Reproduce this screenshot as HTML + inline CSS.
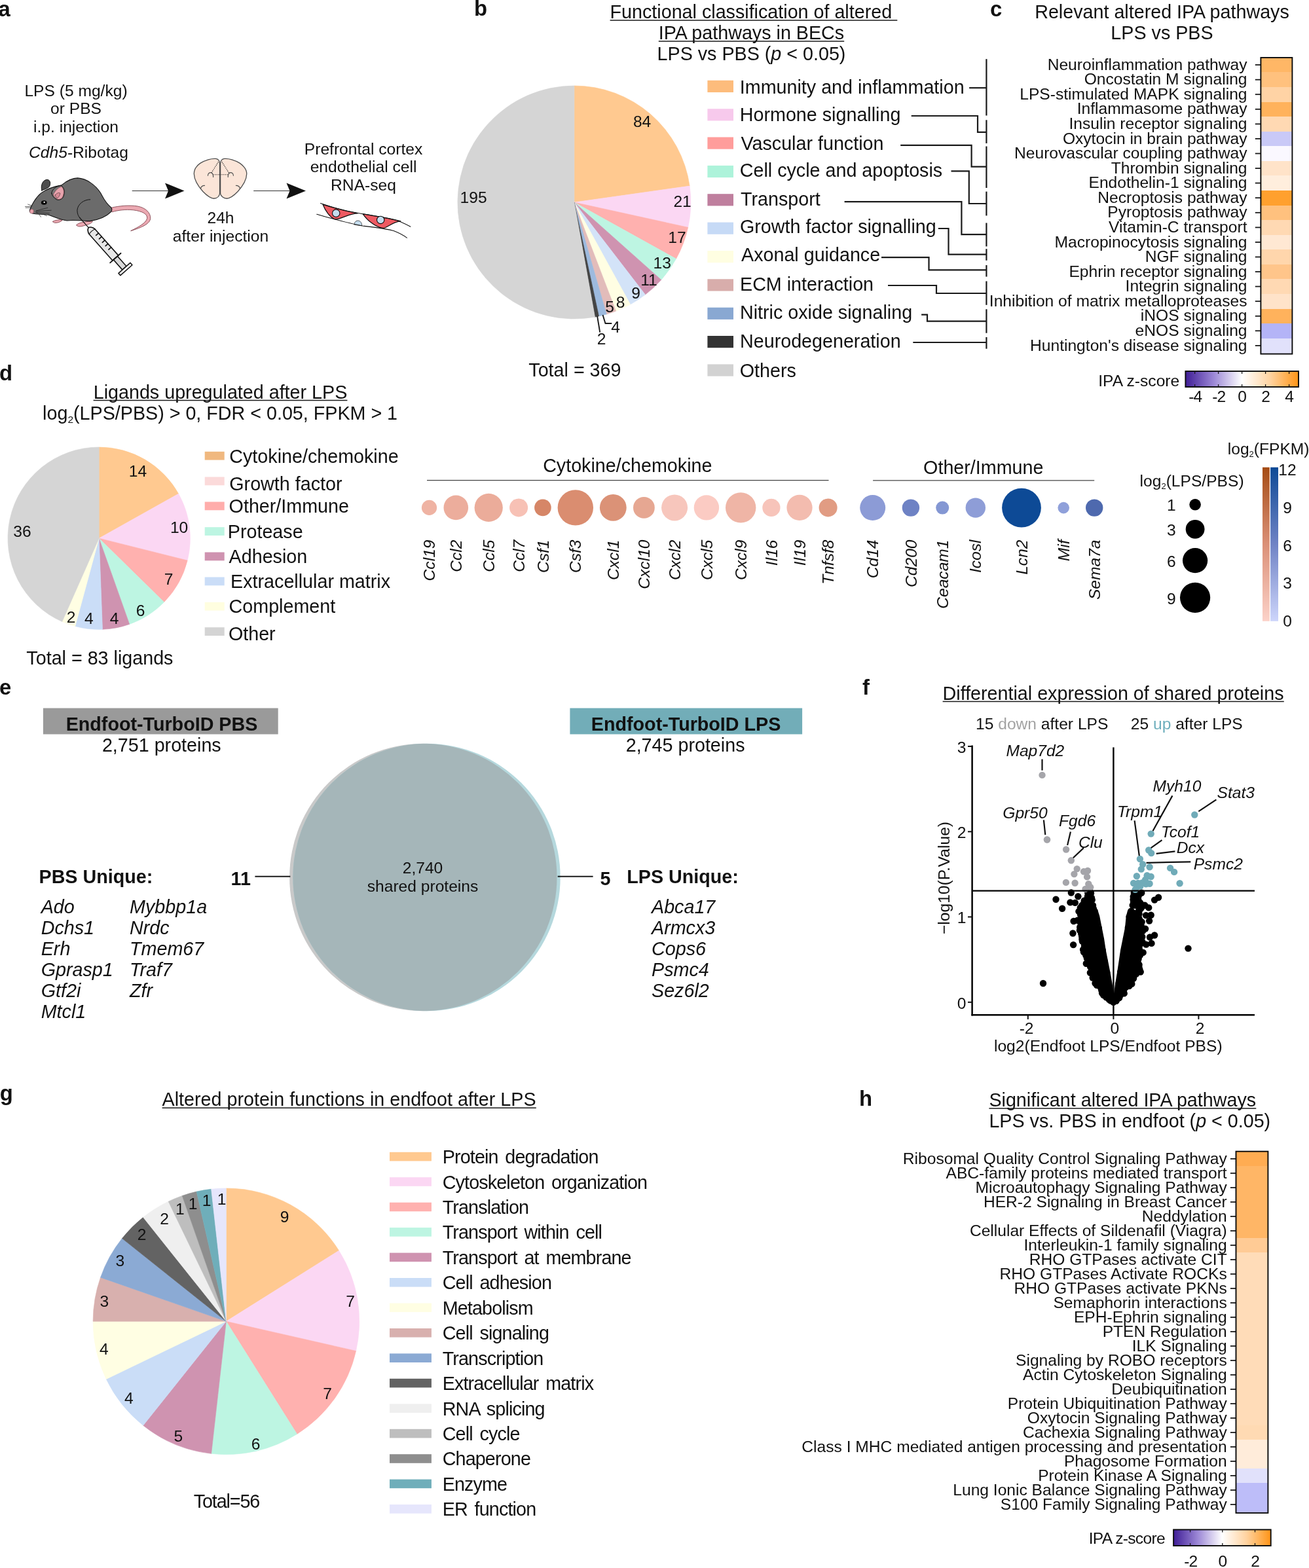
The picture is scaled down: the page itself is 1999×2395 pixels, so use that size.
<!DOCTYPE html>
<html lang="en"><head><meta charset="utf-8"><title>Figure</title>
<style>
html,body{margin:0;padding:0;background:#fff;overflow:hidden}
svg{display:block}
text{font-family:"Liberation Sans",sans-serif;fill:#111}
.b{font-weight:bold}
.i{font-style:italic}
</style></head><body>
<svg width="1999" height="2395" viewBox="0 0 1999 2395">
<rect width="1999" height="2395" fill="#fff"/>
<g id="pa">
<text x="-2.4" y="24.7" font-size="32.80" class="b">a</text>
<text x="116.0" y="146.8" font-size="24.60" text-anchor="middle">LPS (5 mg/kg)</text>
<text x="116.0" y="174.4" font-size="24.60" text-anchor="middle">or PBS</text>
<text x="116.0" y="201.8" font-size="24.60" text-anchor="middle">i.p. injection</text>
<text x="120.0" y="240.6" font-size="24.60" text-anchor="middle"><tspan class="i">Cdh5</tspan>-Ribotag</text>
<text x="337.0" y="341.0" font-size="24.60" text-anchor="middle">24h</text>
<text x="337.0" y="368.5" font-size="24.60" text-anchor="middle">after injection</text>
<text x="555.0" y="235.5" font-size="24.60" text-anchor="middle">Prefrontal cortex</text>
<text x="555.0" y="263.0" font-size="24.60" text-anchor="middle">endothelial cell</text>
<text x="555.0" y="290.5" font-size="24.60" text-anchor="middle">RNA-seq</text>
<line x1="201.7" y1="291.5" x2="258.0" y2="291.5" stroke="#333" stroke-width="1.15"/>
<path d="M281.5,291.5 L252.0,279.5 L257.0,291.5 L252.0,303.5 Z" fill="#111"/>
<line x1="387.2" y1="291.5" x2="443.5" y2="291.5" stroke="#333" stroke-width="1.15"/>
<path d="M467.0,291.5 L437.5,279.5 L442.5,291.5 L437.5,303.5 Z" fill="#111"/>
<g transform="translate(20,250) scale(0.13691)" stroke-linejoin="round" stroke-linecap="round">
<path d="M1095,492 C1180,470 1300,460 1390,475 C1480,492 1535,550 1532,610 C1528,670 1440,710 1312,750 C1400,705 1480,665 1495,610 C1500,560 1440,530 1340,517 C1250,508 1170,520 1105,538 Z" fill="#EBA9B2" stroke="#7a3a45" stroke-width="6"/>
<path d="M320,300 C305,240 330,185 375,178 C415,178 420,215 408,250 C395,275 350,285 320,300 Z" fill="#4d4d4d" stroke="#111" stroke-width="7"/>
<path d="M442,645 C470,628 520,622 550,630 C530,650 500,662 465,660 Z" fill="#EBA9B2" stroke="#7a3a45" stroke-width="6"/>
<path d="M708,685 C720,660 780,650 885,640 C890,660 840,680 790,692 C750,705 715,705 708,685 Z" fill="#EBA9B2" stroke="#7a3a45" stroke-width="6"/>
<path d="M185,520 C200,470 250,380 310,330 C370,285 450,255 540,240 C600,190 660,160 720,160 C820,165 920,240 975,325 C1005,380 1030,440 1095,490 C1105,510 1100,530 1090,540 C1040,590 960,625 860,640 C780,640 700,625 600,635 C530,630 450,590 390,570 C330,562 260,565 215,555 C190,548 182,535 185,520 Z" fill="#6B6B6B" stroke="#111" stroke-width="8"/>
<path d="M860,400 C790,400 720,450 715,520 C715,560 730,590 745,605" fill="none" stroke="#111" stroke-width="7"/>
<path d="M430,330 C430,290 480,250 535,245 C575,270 580,320 560,370 C545,400 510,410 485,400 C455,380 435,360 430,330 Z" fill="#777" stroke="#111" stroke-width="7"/>
<path d="M448,345 C470,300 505,265 540,255 C570,285 572,325 552,372 C540,395 510,403 492,395 C470,380 455,365 448,345 Z" fill="#E8A3AD" stroke="#7a3a45" stroke-width="4"/>
<path d="M470,350 C490,325 510,320 525,330 C520,360 505,380 490,385 C478,375 472,365 470,350 Z" fill="#D98A96" stroke="#222" stroke-width="4"/>
<ellipse cx="345" cy="434" rx="32" ry="24" fill="#000"/>
<circle cx="348" cy="430" r="9" fill="#fff"/>
<ellipse cx="208" cy="532" rx="22" ry="24" fill="#E8A3AD" stroke="#7a3a45" stroke-width="3"/>
<line x1="258" y1="525" x2="385" y2="492" stroke="#111" stroke-width="4.5"/>
<line x1="258" y1="532" x2="425" y2="520" stroke="#111" stroke-width="4.5"/>
<line x1="262" y1="545" x2="405" y2="553" stroke="#111" stroke-width="4.5"/>
<line x1="205" y1="478" x2="135" y2="478" stroke="#111" stroke-width="4.5"/>
<line x1="210" y1="470" x2="165" y2="453" stroke="#111" stroke-width="4.5"/>
<line x1="200" y1="490" x2="140" y2="492" stroke="#111" stroke-width="4.5"/>
<line x1="290" y1="565" x2="310" y2="595" stroke="#111" stroke-width="4.5"/>
<line x1="340" y1="565" x2="375" y2="582" stroke="#111" stroke-width="4.5"/>
<line x1="250" y1="540" x2="270" y2="548" stroke="#111" stroke-width="4.5"/>
<g transform="translate(745,605) rotate(48.4)">
<line x1="-5" y1="0" x2="150" y2="0" stroke="#111" stroke-width="9"/>
<path d="M145,0 C150,-20 175,-40 205,-43 L598,-43 L598,43 L205,43 C175,40 150,20 145,0 Z" fill="#E6E6E6" stroke="#111" stroke-width="11.5"/>
<path d="M205,-43 C195,-15 195,15 205,43" fill="none" stroke="#111" stroke-width="8"/>
<line x1="265" y1="-43" x2="265" y2="-6" stroke="#111" stroke-width="12"/>
<line x1="318" y1="-43" x2="318" y2="-6" stroke="#111" stroke-width="12"/>
<line x1="371" y1="-43" x2="371" y2="-6" stroke="#111" stroke-width="12"/>
<line x1="424" y1="-43" x2="424" y2="-6" stroke="#111" stroke-width="12"/>
<line x1="477" y1="-43" x2="477" y2="-6" stroke="#111" stroke-width="12"/>
<rect x="598" y="-30" width="150" height="60" fill="#D9D9D9" stroke="#111" stroke-width="11.5"/>
<line x1="598" y1="-80" x2="598" y2="80" stroke="#111" stroke-width="13"/>
<rect x="748" y="-88" width="32" height="176" fill="#fff" stroke="#111" stroke-width="11"/>
</g>
</g>
<g transform="translate(280,230) scale(0.11409)" stroke-linecap="round" stroke-linejoin="round">
<path d="M487,170 C485,140 470,115 435,109 C380,102 290,128 225,170 C170,210 142,262 143,312 C145,395 205,485 262,548 C310,598 365,638 408,642 C448,640 482,615 487,575 Z" fill="#FBE5D8" stroke="#505050" stroke-width="11.5"/>
<path d="M496,170 C498,140 513,115 548,109 C603,102 693,128 758,170 C813,210 848,262 848,312 C846,395 786,485 729,548 C681,598 626,638 583,642 C543,640 501,615 496,575 Z" fill="#FBE5D8" stroke="#505050" stroke-width="11.5"/>
<path d="M468,152 L375,300 M517,152 L610,300 M398,322 L600,322" fill="none" stroke="#222" stroke-width="10" stroke-dasharray="11,12" stroke-linecap="butt"/>
<path d="M328,335 C330,305 350,292 370,295 C390,300 400,325 400,355" fill="none" stroke="#505050" stroke-width="10"/>
<path d="M670,335 C668,305 648,292 628,295 C608,300 598,325 598,355" fill="none" stroke="#505050" stroke-width="10"/>
<path d="M285,468 C255,468 235,485 232,512" fill="none" stroke="#505050" stroke-width="10"/>
<path d="M705,468 C735,468 755,485 758,512" fill="none" stroke="#505050" stroke-width="10"/>
</g>
<g transform="translate(280,220) scale(0.22818)" stroke-linecap="round" stroke-linejoin="round">
<path d="M934,405 C1013,430 1094,450 1166,464 C1125,464 1085,486 1044,499 C1032,503 1022,504 1013,503 C981,491 950,446 934,405 Z" fill="#EE5A62" stroke="#111" stroke-width="5.5"/>
<path d="M1202,468 C1283,482 1373,495 1454,516 C1413,520 1382,545 1350,560 C1344,563 1338,563 1332,563 C1283,554 1229,509 1202,468 Z" fill="#EE5A62" stroke="#111" stroke-width="5.5"/>
<path d="M1143,538 C1145,520 1158,512 1170,513 C1185,514 1195,528 1195,545 Z" fill="#C5DDEE" stroke="#111" stroke-width="3"/>
<path d="M918,397 C1000,425 1100,452 1200,468 C1300,483 1400,500 1440,515 C1470,528 1500,542 1520,553" fill="none" stroke="#111" stroke-width="4.5"/>
<path d="M893,470 C1000,500 1100,530 1200,548 C1300,560 1370,568 1410,582 C1445,596 1475,612 1497,628" fill="none" stroke="#111" stroke-width="4.5"/>
<circle cx="1022" cy="463" r="25" fill="#C5DDEE" stroke="#111" stroke-width="5"/>
<circle cx="1320" cy="508" r="25" fill="#C5DDEE" stroke="#111" stroke-width="5"/>
</g>
</g>
<g id="pb">
<text x="724.1" y="24.3" font-size="32.80" class="b">b</text>
<text x="931.6" y="28.0" font-size="28.70">Functional classification of altered</text>
<line x1="931.6" y1="31.0" x2="1370.3" y2="31.0" stroke="#1a1a1a" stroke-width="1.60"/>
<text x="1147.5" y="60.0" font-size="28.70" text-anchor="middle">IPA pathways in BECs</text>
<line x1="1005.8" y1="63.0" x2="1289.2" y2="63.0" stroke="#1a1a1a" stroke-width="1.60"/>
<text x="1147.5" y="92.0" font-size="28.70" text-anchor="middle">LPS vs PBS (<tspan class="i">p</tspan> &lt; 0.05)</text>
<path d="M876.90,309.00 L876.90,131.00 A178.00,178.00 0 0 1 1053.15,284.08 Z" fill="#FFC990" stroke="#FFC990" stroke-width="0.6"/>
<path d="M876.90,309.00 L1053.15,284.08 A178.00,178.00 0 0 1 1050.72,347.34 Z" fill="#FBD7F3" stroke="#FBD7F3" stroke-width="0.6"/>
<path d="M876.90,309.00 L1050.72,347.34 A178.00,178.00 0 0 1 1032.55,395.36 Z" fill="#FFB1AF" stroke="#FFB1AF" stroke-width="0.6"/>
<path d="M876.90,309.00 L1032.55,395.36 A178.00,178.00 0 0 1 1009.79,427.43 Z" fill="#BDF5E2" stroke="#BDF5E2" stroke-width="0.6"/>
<path d="M876.90,309.00 L1009.79,427.43 A178.00,178.00 0 0 1 985.41,450.10 Z" fill="#CF93B0" stroke="#CF93B0" stroke-width="0.6"/>
<path d="M876.90,309.00 L985.41,450.10 A178.00,178.00 0 0 1 962.60,465.01 Z" fill="#D3E3F8" stroke="#D3E3F8" stroke-width="0.6"/>
<path d="M876.90,309.00 L962.60,465.01 A178.00,178.00 0 0 1 940.62,475.20 Z" fill="#FFFEE3" stroke="#FFFEE3" stroke-width="0.6"/>
<path d="M876.90,309.00 L940.62,475.20 A178.00,178.00 0 0 1 926.25,480.02 Z" fill="#E2BCBA" stroke="#E2BCBA" stroke-width="0.6"/>
<path d="M876.90,309.00 L926.25,480.02 A178.00,178.00 0 0 1 914.50,482.98 Z" fill="#9DBADE" stroke="#9DBADE" stroke-width="0.6"/>
<path d="M876.90,309.00 L914.50,482.98 A178.00,178.00 0 0 1 908.56,484.16 Z" fill="#444444" stroke="#444444" stroke-width="0.6"/>
<path d="M876.90,309.00 L908.56,484.16 A178.00,178.00 0 1 1 876.90,131.00 Z" fill="#D5D5D5" stroke="#D5D5D5" stroke-width="0.6"/>
<text x="980.6" y="194.0" font-size="24.60" text-anchor="middle">84</text>
<text x="723.1" y="309.5" font-size="24.60" text-anchor="middle">195</text>
<text x="1042.1" y="316.2" font-size="24.60" text-anchor="middle">21</text>
<text x="1034.0" y="371.4" font-size="24.60" text-anchor="middle">17</text>
<text x="1011.2" y="410.2" font-size="24.60" text-anchor="middle">13</text>
<text x="991.0" y="435.7" font-size="24.60" text-anchor="middle">11</text>
<text x="971.0" y="456.4" font-size="24.60" text-anchor="middle">9</text>
<text x="947.7" y="469.8" font-size="24.60" text-anchor="middle">8</text>
<text x="931.2" y="477.4" font-size="24.60" text-anchor="middle">5</text>
<text x="940.0" y="507.6" font-size="24.60" text-anchor="middle">4</text>
<text x="918.6" y="526.2" font-size="24.60" text-anchor="middle">2</text>
<polyline points="920.5,481.0 924.5,494.0 934.3,494.0" fill="none" stroke="#1a1a1a" stroke-width="1.90"/>
<polyline points="912.1,482.9 916.2,507.6" fill="none" stroke="#1a1a1a" stroke-width="1.90"/>
<text x="877.9" y="575.0" font-size="28.70" text-anchor="middle">Total = 369</text>
<rect x="1080.4" y="122.8" width="39.6" height="18.2" fill="#FDBC7C"/>
<text x="1129.8" y="143.2" font-size="28.70">Immunity and inflammation</text>
<rect x="1080.4" y="166.2" width="39.6" height="18.2" fill="#F7C9EC"/>
<text x="1129.8" y="185.0" font-size="28.70">Hormone signalling</text>
<rect x="1080.4" y="209.5" width="39.6" height="18.2" fill="#FF9D9B"/>
<text x="1131.5" y="228.7" font-size="28.70">Vascular function</text>
<rect x="1080.4" y="252.9" width="39.6" height="18.2" fill="#ADF3DA"/>
<text x="1129.8" y="270.4" font-size="28.70">Cell cycle and apoptosis</text>
<rect x="1080.4" y="296.2" width="39.6" height="18.2" fill="#BF7F9E"/>
<text x="1131.0" y="313.8" font-size="28.70">Transport</text>
<rect x="1080.4" y="339.6" width="39.6" height="18.2" fill="#C6DAF6"/>
<text x="1130.0" y="356.1" font-size="28.70">Growth factor signalling</text>
<rect x="1080.4" y="383.0" width="39.6" height="18.2" fill="#FFFEE2"/>
<text x="1132.0" y="398.8" font-size="28.70">Axonal guidance</text>
<rect x="1080.4" y="426.3" width="39.6" height="18.2" fill="#D8ADAB"/>
<text x="1130.0" y="444.4" font-size="28.70">ECM interaction</text>
<rect x="1080.4" y="469.7" width="39.6" height="18.2" fill="#89A8D2"/>
<text x="1130.0" y="486.9" font-size="28.70">Nitric oxide signaling</text>
<rect x="1080.4" y="513.0" width="39.6" height="18.2" fill="#333333"/>
<text x="1130.0" y="530.8" font-size="28.70">Neurodegeneration</text>
<rect x="1080.4" y="556.4" width="39.6" height="18.2" fill="#D2D2D2"/>
<text x="1129.8" y="576.0" font-size="28.70">Others</text>
<line x1="1506.4" y1="90.2" x2="1506.4" y2="176.5" stroke="#1a1a1a" stroke-width="2.20"/>
<line x1="1506.4" y1="183.3" x2="1506.4" y2="218.9" stroke="#1a1a1a" stroke-width="2.20"/>
<line x1="1506.4" y1="223.5" x2="1506.4" y2="287.0" stroke="#1a1a1a" stroke-width="2.20"/>
<line x1="1506.4" y1="292.6" x2="1506.4" y2="329.4" stroke="#1a1a1a" stroke-width="2.20"/>
<line x1="1506.4" y1="340.5" x2="1506.4" y2="376.4" stroke="#1a1a1a" stroke-width="2.20"/>
<line x1="1506.4" y1="380.2" x2="1506.4" y2="397.8" stroke="#1a1a1a" stroke-width="2.20"/>
<line x1="1506.4" y1="405.0" x2="1506.4" y2="422.6" stroke="#1a1a1a" stroke-width="2.20"/>
<line x1="1506.4" y1="429.5" x2="1506.4" y2="465.8" stroke="#1a1a1a" stroke-width="2.20"/>
<line x1="1506.4" y1="472.3" x2="1506.4" y2="508.7" stroke="#1a1a1a" stroke-width="2.20"/>
<line x1="1506.4" y1="515.0" x2="1506.4" y2="532.7" stroke="#1a1a1a" stroke-width="2.20"/>
<polyline points="1480.1,134.2 1506.4,134.2" fill="none" stroke="#1a1a1a" stroke-width="2.20"/>
<polyline points="1391.7,177.0 1493.0,177.0 1493.0,201.8 1506.4,201.8" fill="none" stroke="#1a1a1a" stroke-width="2.20"/>
<polyline points="1375.2,221.8 1483.6,221.8 1483.6,254.6 1506.4,254.6" fill="none" stroke="#1a1a1a" stroke-width="2.20"/>
<polyline points="1452.5,261.4 1479.8,261.4 1479.8,311.0 1506.4,311.0" fill="none" stroke="#1a1a1a" stroke-width="2.20"/>
<polyline points="1289.6,308.2 1468.4,308.2 1468.4,358.1 1506.4,358.1" fill="none" stroke="#1a1a1a" stroke-width="2.20"/>
<polyline points="1432.8,349.0 1448.5,349.0 1448.5,388.6 1506.4,388.6" fill="none" stroke="#1a1a1a" stroke-width="2.20"/>
<polyline points="1346.0,393.2 1418.5,393.2 1418.5,412.3 1506.4,412.3" fill="none" stroke="#1a1a1a" stroke-width="2.20"/>
<polyline points="1356.0,436.0 1430.0,436.0 1430.0,448.0 1506.4,448.0" fill="none" stroke="#1a1a1a" stroke-width="2.20"/>
<polyline points="1407.1,480.7 1416.0,480.7 1416.0,490.7 1506.4,490.7" fill="none" stroke="#1a1a1a" stroke-width="2.20"/>
<polyline points="1394.3,523.0 1506.4,523.0" fill="none" stroke="#1a1a1a" stroke-width="2.20"/>
</g>
<g id="pc">
<text x="1512.0" y="24.5" font-size="32.80" class="b">c</text>
<text x="1774.5" y="28.0" font-size="28.70" text-anchor="middle">Relevant altered IPA pathways</text>
<text x="1774.5" y="60.0" font-size="28.70" text-anchor="middle">LPS vs PBS</text>
<g shape-rendering="crispEdges">
<rect x="1925.4" y="87.8" width="48.0" height="23.1" fill="#FFB766"/>
<rect x="1925.4" y="110.4" width="48.0" height="23.1" fill="#FFC17E"/>
<rect x="1925.4" y="132.9" width="48.0" height="23.1" fill="#FFD3A5"/>
<rect x="1925.4" y="155.5" width="48.0" height="23.1" fill="#FFB25C"/>
<rect x="1925.4" y="178.1" width="48.0" height="23.1" fill="#FFD9B3"/>
<rect x="1925.4" y="200.6" width="48.0" height="23.1" fill="#C9C9F7"/>
<rect x="1925.4" y="223.2" width="48.0" height="23.1" fill="#FAF8FF"/>
<rect x="1925.4" y="245.8" width="48.0" height="23.1" fill="#FFE3C9"/>
<rect x="1925.4" y="268.4" width="48.0" height="23.1" fill="#FFEEDD"/>
<rect x="1925.4" y="290.9" width="48.0" height="23.1" fill="#FFA02E"/>
<rect x="1925.4" y="313.5" width="48.0" height="23.1" fill="#FFC17E"/>
<rect x="1925.4" y="336.1" width="48.0" height="23.1" fill="#FFD9B3"/>
<rect x="1925.4" y="358.6" width="48.0" height="23.1" fill="#FFE8D3"/>
<rect x="1925.4" y="381.2" width="48.0" height="23.1" fill="#FFD6AC"/>
<rect x="1925.4" y="403.8" width="48.0" height="23.1" fill="#FFC58A"/>
<rect x="1925.4" y="426.4" width="48.0" height="23.1" fill="#FFD9B3"/>
<rect x="1925.4" y="448.9" width="48.0" height="23.1" fill="#FFE3C9"/>
<rect x="1925.4" y="471.5" width="48.0" height="23.1" fill="#FFB25C"/>
<rect x="1925.4" y="494.1" width="48.0" height="23.1" fill="#B4B4F7"/>
<rect x="1925.4" y="516.6" width="48.0" height="23.1" fill="#E1E1FB"/>
</g>
<line x1="1916.8" y1="99.1" x2="1925.4" y2="99.1" stroke="#1a1a1a" stroke-width="1.80"/>
<text x="1904.5" y="106.7" font-size="24.60" text-anchor="end">Neuroinflammation pathway</text>
<line x1="1916.8" y1="121.7" x2="1925.4" y2="121.7" stroke="#1a1a1a" stroke-width="1.80"/>
<text x="1904.5" y="129.3" font-size="24.60" text-anchor="end">Oncostatin M signaling</text>
<line x1="1916.8" y1="144.2" x2="1925.4" y2="144.2" stroke="#1a1a1a" stroke-width="1.80"/>
<text x="1904.5" y="151.8" font-size="24.60" text-anchor="end">LPS-stimulated MAPK signaling</text>
<line x1="1916.8" y1="166.8" x2="1925.4" y2="166.8" stroke="#1a1a1a" stroke-width="1.80"/>
<text x="1904.5" y="174.4" font-size="24.60" text-anchor="end">Inflammasome pathway</text>
<line x1="1916.8" y1="189.4" x2="1925.4" y2="189.4" stroke="#1a1a1a" stroke-width="1.80"/>
<text x="1904.5" y="197.0" font-size="24.60" text-anchor="end">Insulin receptor signaling</text>
<line x1="1916.8" y1="211.9" x2="1925.4" y2="211.9" stroke="#1a1a1a" stroke-width="1.80"/>
<text x="1904.5" y="219.5" font-size="24.60" text-anchor="end">Oxytocin in brain pathway</text>
<line x1="1916.8" y1="234.5" x2="1925.4" y2="234.5" stroke="#1a1a1a" stroke-width="1.80"/>
<text x="1904.5" y="242.1" font-size="24.60" text-anchor="end">Neurovascular coupling pathway</text>
<line x1="1916.8" y1="257.1" x2="1925.4" y2="257.1" stroke="#1a1a1a" stroke-width="1.80"/>
<text x="1904.5" y="264.7" font-size="24.60" text-anchor="end">Thrombin signaling</text>
<line x1="1916.8" y1="279.6" x2="1925.4" y2="279.6" stroke="#1a1a1a" stroke-width="1.80"/>
<text x="1904.5" y="287.2" font-size="24.60" text-anchor="end">Endothelin-1 signaling</text>
<line x1="1916.8" y1="302.2" x2="1925.4" y2="302.2" stroke="#1a1a1a" stroke-width="1.80"/>
<text x="1904.5" y="309.8" font-size="24.60" text-anchor="end">Necroptosis pathway</text>
<line x1="1916.8" y1="324.8" x2="1925.4" y2="324.8" stroke="#1a1a1a" stroke-width="1.80"/>
<text x="1904.5" y="332.4" font-size="24.60" text-anchor="end">Pyroptosis pathway</text>
<line x1="1916.8" y1="347.4" x2="1925.4" y2="347.4" stroke="#1a1a1a" stroke-width="1.80"/>
<text x="1904.5" y="355.0" font-size="24.60" text-anchor="end">Vitamin-C transport</text>
<line x1="1916.8" y1="369.9" x2="1925.4" y2="369.9" stroke="#1a1a1a" stroke-width="1.80"/>
<text x="1904.5" y="377.5" font-size="24.60" text-anchor="end">Macropinocytosis signaling</text>
<line x1="1916.8" y1="392.5" x2="1925.4" y2="392.5" stroke="#1a1a1a" stroke-width="1.80"/>
<text x="1904.5" y="400.1" font-size="24.60" text-anchor="end">NGF signaling</text>
<line x1="1916.8" y1="415.1" x2="1925.4" y2="415.1" stroke="#1a1a1a" stroke-width="1.80"/>
<text x="1904.5" y="422.7" font-size="24.60" text-anchor="end">Ephrin receptor signaling</text>
<line x1="1916.8" y1="437.6" x2="1925.4" y2="437.6" stroke="#1a1a1a" stroke-width="1.80"/>
<text x="1904.5" y="445.2" font-size="24.60" text-anchor="end">Integrin signaling</text>
<line x1="1916.8" y1="460.2" x2="1925.4" y2="460.2" stroke="#1a1a1a" stroke-width="1.80"/>
<text x="1904.5" y="467.8" font-size="24.60" text-anchor="end">Inhibition of matrix metalloproteases</text>
<line x1="1916.8" y1="482.8" x2="1925.4" y2="482.8" stroke="#1a1a1a" stroke-width="1.80"/>
<text x="1904.5" y="490.4" font-size="24.60" text-anchor="end">iNOS signaling</text>
<line x1="1916.8" y1="505.3" x2="1925.4" y2="505.3" stroke="#1a1a1a" stroke-width="1.80"/>
<text x="1904.5" y="512.9" font-size="24.60" text-anchor="end">eNOS signaling</text>
<line x1="1916.8" y1="527.9" x2="1925.4" y2="527.9" stroke="#1a1a1a" stroke-width="1.80"/>
<text x="1904.5" y="535.5" font-size="24.60" text-anchor="end">Huntington's disease signaling</text>
<rect x="1925.4" y="88.0" width="48.0" height="452.6" fill="none" stroke="#0a0a0a" stroke-width="1.90"/>
<defs><linearGradient id="gc" x1="0" x2="1" y1="0" y2="0"><stop offset="0" stop-color="#3F1D96"/><stop offset="0.25" stop-color="#9C88D6"/><stop offset="0.5" stop-color="#FFFFFF"/><stop offset="0.75" stop-color="#FFD3A0"/><stop offset="1" stop-color="#FF9416"/></linearGradient></defs>
<rect x="1810.4" y="567.0" width="172.6" height="24.0" fill="url(#gc)" stroke="#0a0a0a" stroke-width="1.90"/>
<text x="1801.2" y="589.8" font-size="24.60" text-anchor="end">IPA z-score</text>
<line x1="1824.6" y1="567.0" x2="1824.6" y2="571.0" stroke="#1a1a1a" stroke-width="1.30"/>
<line x1="1824.6" y1="591.0" x2="1824.6" y2="587.0" stroke="#1a1a1a" stroke-width="1.30"/>
<text x="1825.2" y="614.0" font-size="24.60" text-anchor="middle" letter-spacing="-1">-4</text>
<line x1="1860.6" y1="567.0" x2="1860.6" y2="571.0" stroke="#1a1a1a" stroke-width="1.30"/>
<line x1="1860.6" y1="591.0" x2="1860.6" y2="587.0" stroke="#1a1a1a" stroke-width="1.30"/>
<text x="1861.2" y="614.0" font-size="24.60" text-anchor="middle" letter-spacing="-1">-2</text>
<line x1="1896.6" y1="567.0" x2="1896.6" y2="571.0" stroke="#1a1a1a" stroke-width="1.30"/>
<line x1="1896.6" y1="591.0" x2="1896.6" y2="587.0" stroke="#1a1a1a" stroke-width="1.30"/>
<text x="1896.6" y="614.0" font-size="24.60" text-anchor="middle" letter-spacing="-1">0</text>
<line x1="1932.6" y1="567.0" x2="1932.6" y2="571.0" stroke="#1a1a1a" stroke-width="1.30"/>
<line x1="1932.6" y1="591.0" x2="1932.6" y2="587.0" stroke="#1a1a1a" stroke-width="1.30"/>
<text x="1932.6" y="614.0" font-size="24.60" text-anchor="middle" letter-spacing="-1">2</text>
<line x1="1968.6" y1="567.0" x2="1968.6" y2="571.0" stroke="#1a1a1a" stroke-width="1.30"/>
<line x1="1968.6" y1="591.0" x2="1968.6" y2="587.0" stroke="#1a1a1a" stroke-width="1.30"/>
<text x="1968.6" y="614.0" font-size="24.60" text-anchor="middle" letter-spacing="-1">4</text>
</g>
<g id="pd">
<text x="-0.9" y="581.3" font-size="32.80" class="b">d</text>
<text x="336.5" y="608.7" font-size="28.70" text-anchor="middle">Ligands upregulated after LPS</text>
<line x1="142.6" y1="611.5" x2="530.4" y2="611.5" stroke="#1a1a1a" stroke-width="1.60"/>
<text x="65.1" y="641.0" font-size="28.70">log<tspan font-size="15.5" dy="5">2</tspan><tspan dy="-5">(LPS/PBS) &gt; 0, FDR &lt; 0.05, FPKM &gt; 1</tspan></text>
<path d="M151.20,822.20 L151.20,683.00 A139.20,139.20 0 0 1 272.62,754.13 Z" fill="#FFC990" stroke="#FFC990" stroke-width="0.6"/>
<path d="M151.20,822.20 L272.62,754.13 A139.20,139.20 0 0 1 286.21,856.10 Z" fill="#FBD7F3" stroke="#FBD7F3" stroke-width="0.6"/>
<path d="M151.20,822.20 L286.21,856.10 A139.20,139.20 0 0 1 250.56,919.69 Z" fill="#FFB1AF" stroke="#FFB1AF" stroke-width="0.6"/>
<path d="M151.20,822.20 L250.56,919.69 A139.20,139.20 0 0 1 197.71,953.40 Z" fill="#BDF5E2" stroke="#BDF5E2" stroke-width="0.6"/>
<path d="M151.20,822.20 L197.71,953.40 A139.20,139.20 0 0 1 156.47,961.30 Z" fill="#CF93B0" stroke="#CF93B0" stroke-width="0.6"/>
<path d="M151.20,822.20 L156.47,961.30 A139.20,139.20 0 0 1 114.75,956.54 Z" fill="#CADDF7" stroke="#CADDF7" stroke-width="0.6"/>
<path d="M151.20,822.20 L114.75,956.54 A139.20,139.20 0 0 1 94.90,949.51 Z" fill="#FFFEE3" stroke="#FFFEE3" stroke-width="0.6"/>
<path d="M151.20,822.20 L94.90,949.51 A139.20,139.20 0 0 1 151.20,683.00 Z" fill="#D5D5D5" stroke="#D5D5D5" stroke-width="0.6"/>
<text x="210.5" y="727.7" font-size="24.60" text-anchor="middle">14</text>
<text x="273.6" y="814.0" font-size="24.60" text-anchor="middle">10</text>
<text x="257.6" y="892.7" font-size="24.60" text-anchor="middle">7</text>
<text x="214.5" y="941.4" font-size="24.60" text-anchor="middle">6</text>
<text x="174.5" y="953.4" font-size="24.60" text-anchor="middle">4</text>
<text x="135.8" y="953.4" font-size="24.60" text-anchor="middle">4</text>
<text x="108.6" y="951.4" font-size="24.60" text-anchor="middle">2</text>
<text x="34.0" y="819.6" font-size="24.60" text-anchor="middle">36</text>
<text x="152.4" y="1015.3" font-size="28.70" text-anchor="middle">Total = 83 ligands</text>
<rect x="312.7" y="689.8" width="30.0" height="12.8" fill="#F0B87F"/>
<text x="350.3" y="707.0" font-size="28.70">Cytokine/chemokine</text>
<rect x="312.7" y="728.5" width="30.0" height="12.8" fill="#FBDADA"/>
<text x="350.3" y="748.5" font-size="28.70">Growth factor</text>
<rect x="312.7" y="766.5" width="30.0" height="12.8" fill="#FFADAB"/>
<text x="349.6" y="782.8" font-size="28.70">Other/Immune</text>
<rect x="312.7" y="805.2" width="30.0" height="12.8" fill="#BDF5E2"/>
<text x="347.8" y="821.6" font-size="28.70">Protease</text>
<rect x="312.7" y="843.5" width="30.0" height="12.8" fill="#CF93B0"/>
<text x="349.6" y="859.5" font-size="28.70">Adhesion</text>
<rect x="312.7" y="881.5" width="30.0" height="12.8" fill="#CADDF7"/>
<text x="352.1" y="897.5" font-size="28.70">Extracellular matrix</text>
<rect x="312.7" y="919.8" width="30.0" height="12.8" fill="#FFFEE0"/>
<text x="349.6" y="935.8" font-size="28.70">Complement</text>
<rect x="312.7" y="958.2" width="30.0" height="12.8" fill="#D4D4D4"/>
<text x="348.9" y="977.7" font-size="28.70">Other</text>
<text x="958.3" y="720.8" font-size="28.70" text-anchor="middle">Cytokine/chemokine</text>
<line x1="652.0" y1="733.6" x2="1265.5" y2="733.6" stroke="#444" stroke-width="1.30"/>
<circle cx="655.5" cy="775.4" r="11.6" fill="#EFB3A3"/>
<text transform="translate(664.1,824.5) rotate(-90)" font-size="24.60" text-anchor="end" class="i">Ccl19</text>
<circle cx="696.3" cy="775.4" r="18.8" fill="#ECAD9C"/>
<text transform="translate(704.9,824.5) rotate(-90)" font-size="24.60" text-anchor="end" class="i">Ccl2</text>
<circle cx="746.2" cy="775.4" r="21.6" fill="#EBAC9A"/>
<text transform="translate(754.8,824.5) rotate(-90)" font-size="24.60" text-anchor="end" class="i">Ccl5</text>
<circle cx="792.1" cy="775.4" r="14.0" fill="#F7C1B5"/>
<text transform="translate(800.7,824.5) rotate(-90)" font-size="24.60" text-anchor="end" class="i">Ccl7</text>
<circle cx="828.9" cy="775.4" r="12.8" fill="#D68667"/>
<text transform="translate(837.5,824.5) rotate(-90)" font-size="24.60" text-anchor="end" class="i">Csf1</text>
<circle cx="878.8" cy="775.4" r="27.2" fill="#DA8D70"/>
<text transform="translate(887.4,824.5) rotate(-90)" font-size="24.60" text-anchor="end" class="i">Csf3</text>
<circle cx="936.3" cy="775.4" r="20.4" fill="#DB9277"/>
<text transform="translate(944.9,824.5) rotate(-90)" font-size="24.60" text-anchor="end" class="i">Cxcl1</text>
<circle cx="983.4" cy="775.4" r="16.4" fill="#E6A792"/>
<text transform="translate(992.0,824.5) rotate(-90)" font-size="24.60" text-anchor="end" class="i">Cxcl10</text>
<circle cx="1030.1" cy="775.4" r="20.0" fill="#F7C6BC"/>
<text transform="translate(1038.7,824.5) rotate(-90)" font-size="24.60" text-anchor="end" class="i">Cxcl2</text>
<circle cx="1078.9" cy="775.4" r="19.2" fill="#FBCBC3"/>
<text transform="translate(1087.5,824.5) rotate(-90)" font-size="24.60" text-anchor="end" class="i">Cxcl5</text>
<circle cx="1131.2" cy="775.4" r="23.2" fill="#EFB5A6"/>
<text transform="translate(1139.8,824.5) rotate(-90)" font-size="24.60" text-anchor="end" class="i">Cxcl9</text>
<circle cx="1177.9" cy="775.4" r="13.6" fill="#F7C4BA"/>
<text transform="translate(1186.5,824.5) rotate(-90)" font-size="24.60" text-anchor="end" class="i">Il16</text>
<circle cx="1221.0" cy="775.4" r="19.6" fill="#F3BCAF"/>
<text transform="translate(1229.6,824.5) rotate(-90)" font-size="24.60" text-anchor="end" class="i">Il19</text>
<circle cx="1264.6" cy="775.4" r="14.0" fill="#E19C83"/>
<text transform="translate(1273.2,824.5) rotate(-90)" font-size="24.60" text-anchor="end" class="i">Tnfsf8</text>
<text x="1501.8" y="723.8" font-size="28.70" text-anchor="middle">Other/Immune</text>
<line x1="1333.1" y1="733.8" x2="1671.2" y2="733.8" stroke="#444" stroke-width="1.30"/>
<circle cx="1332.7" cy="775.6" r="19.5" fill="#8C9BD6"/>
<text transform="translate(1341.3,824.5) rotate(-90)" font-size="24.60" text-anchor="end" class="i">Cd14</text>
<circle cx="1390.9" cy="775.6" r="13.2" fill="#6E82C4"/>
<text transform="translate(1399.5,824.5) rotate(-90)" font-size="24.60" text-anchor="end" class="i">Cd200</text>
<circle cx="1439.2" cy="775.6" r="10.0" fill="#8497D3"/>
<text transform="translate(1447.8,824.5) rotate(-90)" font-size="24.60" text-anchor="end" class="i">Ceacam1</text>
<circle cx="1489.8" cy="775.6" r="15.2" fill="#8E9DD7"/>
<text transform="translate(1498.4,824.5) rotate(-90)" font-size="24.60" text-anchor="end" class="i">Icosl</text>
<circle cx="1560.0" cy="775.6" r="29.9" fill="#0D4A96"/>
<text transform="translate(1568.6,824.5) rotate(-90)" font-size="24.60" text-anchor="end" class="i">Lcn2</text>
<circle cx="1624.2" cy="775.6" r="8.8" fill="#8FA0DA"/>
<text transform="translate(1632.8,824.5) rotate(-90)" font-size="24.60" text-anchor="end" class="i">Mif</text>
<circle cx="1671.2" cy="775.6" r="13.2" fill="#4E69AE"/>
<text transform="translate(1679.8,824.5) rotate(-90)" font-size="24.60" text-anchor="end" class="i">Sema7a</text>
<text x="1740.6" y="742.9" font-size="24.60">log<tspan font-size="13" dy="4">2</tspan><tspan dy="-4">(LPS/PBS)</tspan></text>
<circle cx="1825.1" cy="770.8" r="8.8" fill="#000"/>
<text x="1795.6" y="779.6" font-size="24.60" text-anchor="end">1</text>
<circle cx="1825.1" cy="808.3" r="14.4" fill="#000"/>
<text x="1795.6" y="818.3" font-size="24.60" text-anchor="end">3</text>
<circle cx="1825.1" cy="856.2" r="19.1" fill="#000"/>
<text x="1795.6" y="866.1" font-size="24.60" text-anchor="end">6</text>
<circle cx="1825.1" cy="912.8" r="23.1" fill="#000"/>
<text x="1795.6" y="923.2" font-size="24.60" text-anchor="end">9</text>
<text x="1999.5" y="693.9" font-size="24.60" text-anchor="end">log<tspan font-size="13" dy="4">2</tspan><tspan dy="-4">(FPKM)</tspan></text>
<defs><linearGradient id="go" x1="0" x2="0" y1="0" y2="1"><stop offset="0" stop-color="#A54C14"/><stop offset="0.5" stop-color="#DB9077"/><stop offset="1" stop-color="#FCD2C9"/></linearGradient><linearGradient id="gb" x1="0" x2="0" y1="0" y2="1"><stop offset="0" stop-color="#0D4A96"/><stop offset="0.5" stop-color="#6F83C5"/><stop offset="1" stop-color="#CDD5FB"/></linearGradient></defs>
<rect x="1928.0" y="713.8" width="10.8" height="235.0" fill="url(#go)"/>
<rect x="1940.1" y="713.8" width="11.9" height="235.0" fill="url(#gb)"/>
<text x="1966.0" y="725.8" font-size="24.60" text-anchor="middle">12</text>
<text x="1966.0" y="783.5" font-size="24.60" text-anchor="middle">9</text>
<text x="1966.0" y="841.6" font-size="24.60" text-anchor="middle">6</text>
<text x="1966.0" y="898.7" font-size="24.60" text-anchor="middle">3</text>
<text x="1966.0" y="956.9" font-size="24.60" text-anchor="middle">0</text>
</g>
<g id="pe">
<text x="-1.0" y="1061.3" font-size="32.80" class="b">e</text>
<rect x="65.9" y="1081.6" width="358.8" height="39.9" fill="#9A9A9A"/>
<text x="247.0" y="1115.8" font-size="28.70" text-anchor="middle" class="b">Endfoot-TurboID PBS</text>
<text x="246.8" y="1147.8" font-size="28.70" text-anchor="middle">2,751 proteins</text>
<rect x="870.4" y="1081.6" width="354.7" height="39.9" fill="#72ADB8"/>
<text x="1047.6" y="1115.8" font-size="28.70" text-anchor="middle" class="b">Endfoot-TurboID LPS</text>
<text x="1046.6" y="1147.8" font-size="28.70" text-anchor="middle">2,745 proteins</text>
<circle cx="646.3" cy="1340.0" r="204.2" fill="#C9C9C9"/>
<circle cx="651.5" cy="1340.0" r="204.2" fill="#B5D8DD"/>
<clipPath id="cv"><circle cx="646.3" cy="1340" r="204.2"/></clipPath>
<circle cx="651.5" cy="1340.0" r="204.2" fill="#A5B6B9" clip-path="url(#cv)"/>
<text x="645.5" y="1334.3" font-size="24.60" text-anchor="middle">2,740</text>
<text x="645.5" y="1362.2" font-size="24.60" text-anchor="middle">shared proteins</text>
<line x1="389.4" y1="1338.7" x2="443.3" y2="1338.7" stroke="#1a1a1a" stroke-width="1.90"/>
<line x1="851.7" y1="1338.7" x2="905.6" y2="1338.7" stroke="#1a1a1a" stroke-width="1.90"/>
<text x="352.6" y="1351.6" font-size="28.70" class="b">11</text>
<text x="916.4" y="1351.6" font-size="28.70" class="b">5</text>
<text x="59.5" y="1349.3" font-size="28.70" class="b">PBS Unique:</text>
<text x="957.3" y="1349.3" font-size="28.70" class="b">LPS Unique:</text>
<text x="62.7" y="1394.6" font-size="28.70" class="i">Ado</text>
<text x="62.7" y="1426.8" font-size="28.70" class="i">Dchs1</text>
<text x="62.7" y="1458.9" font-size="28.70" class="i">Erh</text>
<text x="62.7" y="1491.0" font-size="28.70" class="i">Gprasp1</text>
<text x="62.7" y="1523.2" font-size="28.70" class="i">Gtf2i</text>
<text x="62.7" y="1555.3" font-size="28.70" class="i">Mtcl1</text>
<text x="198.1" y="1394.6" font-size="28.70" class="i">Mybbp1a</text>
<text x="198.1" y="1426.8" font-size="28.70" class="i">Nrdc</text>
<text x="198.1" y="1458.9" font-size="28.70" class="i">Tmem67</text>
<text x="198.1" y="1491.0" font-size="28.70" class="i">Traf7</text>
<text x="198.1" y="1523.2" font-size="28.70" class="i">Zfr</text>
<text x="995.0" y="1394.6" font-size="28.70" class="i">Abca17</text>
<text x="995.0" y="1426.8" font-size="28.70" class="i">Armcx3</text>
<text x="995.0" y="1458.9" font-size="28.70" class="i">Cops6</text>
<text x="995.0" y="1491.0" font-size="28.70" class="i">Psmc4</text>
<text x="995.0" y="1523.2" font-size="28.70" class="i">Sez6l2</text>
</g>
<g id="pf">
<text x="1317.0" y="1060.9" font-size="32.80" class="b">f</text>
<text x="1439.6" y="1068.6" font-size="28.70">Differential expression of shared proteins</text>
<line x1="1439.6" y1="1071.5" x2="1960.8" y2="1071.5" stroke="#1a1a1a" stroke-width="1.60"/>
<text x="1490.0" y="1114.3" font-size="24.60">15 <tspan fill="#A3A3A3">down</tspan> after LPS</text>
<text x="1726.8" y="1114.3" font-size="24.60">25 <tspan fill="#6FAFBD">up</tspan> after LPS</text>
<line x1="1484.6" y1="1138.6" x2="1484.6" y2="1551.5" stroke="#000" stroke-width="2.50"/>
<line x1="1483.4" y1="1550.3" x2="1916.0" y2="1550.3" stroke="#000" stroke-width="2.50"/>
<line x1="1478.0" y1="1140.0" x2="1484.6" y2="1140.0" stroke="#111" stroke-width="2.00"/>
<text x="1475.4" y="1149.7" font-size="24.60" text-anchor="end">3</text>
<line x1="1478.0" y1="1270.3" x2="1484.6" y2="1270.3" stroke="#111" stroke-width="2.00"/>
<text x="1475.4" y="1280.0" font-size="24.60" text-anchor="end">2</text>
<line x1="1478.0" y1="1400.5" x2="1484.6" y2="1400.5" stroke="#111" stroke-width="2.00"/>
<text x="1475.4" y="1410.2" font-size="24.60" text-anchor="end">1</text>
<line x1="1478.0" y1="1530.8" x2="1484.6" y2="1530.8" stroke="#111" stroke-width="2.00"/>
<text x="1475.4" y="1540.5" font-size="24.60" text-anchor="end">0</text>
<line x1="1569.8" y1="1550.3" x2="1569.8" y2="1556.9" stroke="#111" stroke-width="2.00"/>
<text x="1567.6" y="1579.3" font-size="24.60" text-anchor="middle">-2</text>
<line x1="1700.4" y1="1550.3" x2="1700.4" y2="1556.9" stroke="#111" stroke-width="2.00"/>
<text x="1702.4" y="1579.3" font-size="24.60" text-anchor="middle">0</text>
<line x1="1830.4" y1="1550.3" x2="1830.4" y2="1556.9" stroke="#111" stroke-width="2.00"/>
<text x="1832.6" y="1579.3" font-size="24.60" text-anchor="middle">2</text>
<text x="1692.3" y="1606.3" font-size="24.60" text-anchor="middle">log2(Endfoot LPS/Endfoot PBS)</text>
<text transform="translate(1449.5,1341) rotate(-90)" font-size="24.60" text-anchor="middle">−log10(P.Value)</text>
<polygon points="1649.3,1391.2 1650.2,1399.8 1650.7,1416.9 1652.4,1434.0 1655.0,1451.1 1659.3,1468.2 1667.0,1485.4 1674.3,1502.5 1687.0,1519.6 1695.2,1527.3 1700.3,1530.2 1700.7,1526.4 1700.0,1519.6 1697.6,1502.5 1694.5,1485.4 1691.1,1468.2 1687.7,1451.1 1685.1,1434.0 1681.7,1416.9 1678.3,1399.8 1675.7,1391.2" fill="#000" stroke="#000" stroke-width="2" stroke-linejoin="round"/>
<polygon points="1740.5,1391.2 1739.7,1399.8 1743.1,1416.9 1743.1,1434.0 1741.4,1451.1 1739.7,1468.2 1737.6,1485.4 1726.0,1502.5 1713.2,1519.6 1705.5,1527.3 1700.3,1530.2 1700.0,1526.4 1701.7,1519.6 1704.1,1502.5 1707.0,1485.4 1709.6,1468.2 1712.1,1451.1 1715.6,1434.0 1719.0,1416.9 1720.7,1399.8 1722.9,1391.2" fill="#000" stroke="#000" stroke-width="2" stroke-linejoin="round"/>
<g fill="#000">
<circle cx="1661.6" cy="1363.2" r="5.2"/>
<circle cx="1663.0" cy="1368.5" r="5.2"/>
<circle cx="1660.2" cy="1374.4" r="5.2"/>
<circle cx="1655.6" cy="1378.4" r="5.2"/>
<circle cx="1654.7" cy="1383.5" r="5.2"/>
<circle cx="1649.8" cy="1386.4" r="5.2"/>
<circle cx="1647.4" cy="1392.1" r="5.2"/>
<circle cx="1650.7" cy="1394.3" r="5.2"/>
<circle cx="1652.5" cy="1401.1" r="5.2"/>
<circle cx="1651.1" cy="1404.4" r="5.2"/>
<circle cx="1648.8" cy="1407.0" r="5.2"/>
<circle cx="1650.7" cy="1411.4" r="5.2"/>
<circle cx="1649.2" cy="1416.2" r="5.2"/>
<circle cx="1648.9" cy="1421.1" r="5.2"/>
<circle cx="1651.3" cy="1426.4" r="5.2"/>
<circle cx="1652.1" cy="1430.1" r="5.2"/>
<circle cx="1652.4" cy="1434.5" r="5.2"/>
<circle cx="1652.9" cy="1437.7" r="5.2"/>
<circle cx="1656.1" cy="1443.9" r="5.2"/>
<circle cx="1656.0" cy="1447.4" r="5.2"/>
<circle cx="1654.1" cy="1450.4" r="5.2"/>
<circle cx="1655.0" cy="1454.2" r="5.2"/>
<circle cx="1658.4" cy="1459.4" r="5.2"/>
<circle cx="1659.9" cy="1463.7" r="5.2"/>
<circle cx="1661.5" cy="1469.2" r="5.2"/>
<circle cx="1658.8" cy="1471.7" r="5.2"/>
<circle cx="1665.1" cy="1476.7" r="5.2"/>
<circle cx="1667.3" cy="1480.8" r="5.2"/>
<circle cx="1664.9" cy="1485.7" r="5.2"/>
<circle cx="1670.1" cy="1489.0" r="5.2"/>
<circle cx="1668.7" cy="1493.5" r="5.2"/>
<circle cx="1674.7" cy="1498.9" r="5.2"/>
<circle cx="1672.5" cy="1501.8" r="5.2"/>
<circle cx="1674.9" cy="1504.7" r="5.2"/>
<circle cx="1680.8" cy="1508.4" r="5.2"/>
<circle cx="1682.2" cy="1512.6" r="5.2"/>
<circle cx="1683.0" cy="1516.8" r="5.2"/>
<circle cx="1685.2" cy="1520.0" r="5.2"/>
<circle cx="1689.3" cy="1523.2" r="5.2"/>
<circle cx="1693.8" cy="1526.7" r="5.2"/>
<circle cx="1743.3" cy="1363.8" r="5.2"/>
<circle cx="1738.6" cy="1367.8" r="5.2"/>
<circle cx="1736.7" cy="1370.1" r="5.2"/>
<circle cx="1738.3" cy="1374.5" r="5.2"/>
<circle cx="1737.8" cy="1379.7" r="5.2"/>
<circle cx="1741.4" cy="1382.0" r="5.2"/>
<circle cx="1743.0" cy="1386.5" r="5.2"/>
<circle cx="1739.6" cy="1390.1" r="5.2"/>
<circle cx="1738.2" cy="1395.7" r="5.2"/>
<circle cx="1738.5" cy="1400.1" r="5.2"/>
<circle cx="1739.9" cy="1403.9" r="5.2"/>
<circle cx="1743.6" cy="1408.3" r="5.2"/>
<circle cx="1742.6" cy="1413.6" r="5.2"/>
<circle cx="1741.6" cy="1416.0" r="5.2"/>
<circle cx="1745.1" cy="1422.1" r="5.2"/>
<circle cx="1741.9" cy="1424.6" r="5.2"/>
<circle cx="1744.3" cy="1431.0" r="5.2"/>
<circle cx="1741.7" cy="1435.3" r="5.2"/>
<circle cx="1744.5" cy="1438.6" r="5.2"/>
<circle cx="1741.9" cy="1441.5" r="5.2"/>
<circle cx="1739.6" cy="1448.1" r="5.2"/>
<circle cx="1740.2" cy="1451.7" r="5.2"/>
<circle cx="1739.8" cy="1456.3" r="5.2"/>
<circle cx="1741.0" cy="1459.1" r="5.2"/>
<circle cx="1738.6" cy="1464.6" r="5.2"/>
<circle cx="1737.6" cy="1467.5" r="5.2"/>
<circle cx="1739.5" cy="1473.5" r="5.2"/>
<circle cx="1739.2" cy="1476.2" r="5.2"/>
<circle cx="1740.2" cy="1480.3" r="5.2"/>
<circle cx="1735.3" cy="1484.7" r="5.2"/>
<circle cx="1735.1" cy="1487.6" r="5.2"/>
<circle cx="1731.4" cy="1491.8" r="5.2"/>
<circle cx="1731.0" cy="1494.6" r="5.2"/>
<circle cx="1727.7" cy="1500.1" r="5.2"/>
<circle cx="1728.3" cy="1502.9" r="5.2"/>
<circle cx="1724.4" cy="1506.1" r="5.2"/>
<circle cx="1719.1" cy="1508.0" r="5.2"/>
<circle cx="1716.0" cy="1513.9" r="5.2"/>
<circle cx="1716.7" cy="1517.4" r="5.2"/>
<circle cx="1710.9" cy="1520.0" r="5.2"/>
<circle cx="1709.2" cy="1524.1" r="5.2"/>
<circle cx="1704.6" cy="1528.7" r="5.2"/>
<circle cx="1665.5" cy="1363.1" r="5.2"/>
<circle cx="1667.6" cy="1374.7" r="5.2"/>
<circle cx="1669.0" cy="1383.0" r="5.2"/>
<circle cx="1671.6" cy="1391.8" r="5.2"/>
<circle cx="1673.6" cy="1400.0" r="5.2"/>
<circle cx="1677.8" cy="1417.4" r="5.2"/>
<circle cx="1680.5" cy="1434.4" r="5.2"/>
<circle cx="1683.7" cy="1451.2" r="5.2"/>
<circle cx="1686.8" cy="1468.1" r="5.2"/>
<circle cx="1690.2" cy="1485.5" r="5.2"/>
<circle cx="1692.6" cy="1502.7" r="5.2"/>
<circle cx="1731.8" cy="1363.5" r="5.2"/>
<circle cx="1730.6" cy="1374.0" r="5.2"/>
<circle cx="1729.7" cy="1382.8" r="5.2"/>
<circle cx="1727.3" cy="1391.7" r="5.2"/>
<circle cx="1724.6" cy="1400.1" r="5.2"/>
<circle cx="1722.8" cy="1417.0" r="5.2"/>
<circle cx="1720.0" cy="1433.7" r="5.2"/>
<circle cx="1716.9" cy="1451.1" r="5.2"/>
<circle cx="1714.2" cy="1468.8" r="5.2"/>
<circle cx="1711.1" cy="1484.7" r="5.2"/>
<circle cx="1708.3" cy="1502.7" r="5.2"/>
<circle cx="1692.1" cy="1524.4" r="5.2"/>
<circle cx="1700.3" cy="1530.7" r="5.2"/>
<circle cx="1708.5" cy="1524.4" r="5.2"/>
<circle cx="1696.9" cy="1522.2" r="5.2"/>
<circle cx="1703.8" cy="1522.2" r="5.2"/>
<circle cx="1696.2" cy="1528.5" r="5.2"/>
<circle cx="1704.4" cy="1528.5" r="5.2"/>
<circle cx="1665.3" cy="1385.3" r="5.2"/>
<circle cx="1670.3" cy="1391.1" r="5.2"/>
<circle cx="1669.4" cy="1389.3" r="5.2"/>
<circle cx="1663.7" cy="1365.2" r="5.2"/>
<circle cx="1664.8" cy="1396.2" r="5.2"/>
<circle cx="1652.0" cy="1394.7" r="5.2"/>
<circle cx="1658.8" cy="1380.1" r="5.2"/>
<circle cx="1662.5" cy="1382.6" r="5.2"/>
<circle cx="1662.4" cy="1364.6" r="5.2"/>
<circle cx="1666.9" cy="1373.7" r="5.2"/>
<circle cx="1653.1" cy="1390.1" r="5.2"/>
<circle cx="1652.1" cy="1391.2" r="5.2"/>
<circle cx="1654.6" cy="1385.1" r="5.2"/>
<circle cx="1665.9" cy="1364.3" r="5.2"/>
<circle cx="1661.7" cy="1371.3" r="5.2"/>
<circle cx="1670.4" cy="1397.5" r="5.2"/>
<circle cx="1667.3" cy="1374.0" r="5.2"/>
<circle cx="1664.1" cy="1382.5" r="5.2"/>
<circle cx="1666.9" cy="1371.1" r="5.2"/>
<circle cx="1669.8" cy="1387.6" r="5.2"/>
<circle cx="1656.3" cy="1394.5" r="5.2"/>
<circle cx="1659.8" cy="1376.4" r="5.2"/>
<circle cx="1661.0" cy="1369.1" r="5.2"/>
<circle cx="1664.5" cy="1374.4" r="5.2"/>
<circle cx="1664.9" cy="1364.3" r="5.2"/>
<circle cx="1661.6" cy="1375.6" r="5.2"/>
<circle cx="1660.0" cy="1391.9" r="5.2"/>
<circle cx="1663.3" cy="1374.9" r="5.2"/>
<circle cx="1651.9" cy="1388.1" r="5.2"/>
<circle cx="1650.1" cy="1397.2" r="5.2"/>
<circle cx="1667.8" cy="1389.6" r="5.2"/>
<circle cx="1665.5" cy="1364.8" r="5.2"/>
<circle cx="1663.8" cy="1376.6" r="5.2"/>
<circle cx="1661.5" cy="1364.5" r="5.2"/>
<circle cx="1738.1" cy="1370.3" r="5.2"/>
<circle cx="1736.3" cy="1370.9" r="5.2"/>
<circle cx="1739.6" cy="1395.7" r="5.2"/>
<circle cx="1732.8" cy="1375.9" r="5.2"/>
<circle cx="1739.6" cy="1382.0" r="5.2"/>
<circle cx="1737.2" cy="1367.9" r="5.2"/>
<circle cx="1739.0" cy="1391.2" r="5.2"/>
<circle cx="1739.9" cy="1365.4" r="5.2"/>
<circle cx="1733.6" cy="1367.3" r="5.2"/>
<circle cx="1741.4" cy="1384.9" r="5.2"/>
<circle cx="1737.5" cy="1375.7" r="5.2"/>
<circle cx="1733.5" cy="1382.7" r="5.2"/>
<circle cx="1731.2" cy="1374.9" r="5.2"/>
<circle cx="1731.9" cy="1366.8" r="5.2"/>
<circle cx="1741.8" cy="1387.6" r="5.2"/>
<circle cx="1730.7" cy="1369.7" r="5.2"/>
<circle cx="1733.3" cy="1397.6" r="5.2"/>
<circle cx="1732.0" cy="1378.0" r="5.2"/>
<circle cx="1740.3" cy="1384.3" r="5.2"/>
<circle cx="1734.3" cy="1379.6" r="5.2"/>
<circle cx="1739.4" cy="1366.1" r="5.2"/>
<circle cx="1735.5" cy="1365.3" r="5.2"/>
<circle cx="1728.5" cy="1392.6" r="5.2"/>
<circle cx="1740.8" cy="1389.0" r="5.2"/>
<circle cx="1739.4" cy="1385.6" r="5.2"/>
<circle cx="1734.4" cy="1367.8" r="5.2"/>
<circle cx="1737.6" cy="1369.3" r="5.2"/>
<circle cx="1733.1" cy="1374.2" r="5.2"/>
<circle cx="1738.0" cy="1398.1" r="5.2"/>
<circle cx="1732.2" cy="1397.3" r="5.2"/>
<circle cx="1738.4" cy="1380.7" r="5.2"/>
<circle cx="1732.9" cy="1380.4" r="5.2"/>
<circle cx="1731.0" cy="1377.9" r="5.2"/>
<circle cx="1738.9" cy="1377.0" r="5.2"/>
<circle cx="1635.8" cy="1363.5" r="5.2"/>
<circle cx="1612.5" cy="1373.8" r="5.2"/>
<circle cx="1646.4" cy="1369.3" r="5.2"/>
<circle cx="1634.4" cy="1378.4" r="5.2"/>
<circle cx="1641.8" cy="1378.9" r="5.2"/>
<circle cx="1622.1" cy="1387.8" r="5.2"/>
<circle cx="1660.1" cy="1373.3" r="5.2"/>
<circle cx="1664.4" cy="1364.7" r="5.2"/>
<circle cx="1639.6" cy="1407.0" r="5.2"/>
<circle cx="1645.6" cy="1405.8" r="5.2"/>
<circle cx="1638.4" cy="1425.5" r="5.2"/>
<circle cx="1639.1" cy="1443.1" r="5.2"/>
<circle cx="1593.0" cy="1502.0" r="5.2"/>
<circle cx="1814.5" cy="1448.6" r="5.2"/>
<circle cx="1769.1" cy="1370.7" r="5.2"/>
<circle cx="1763.1" cy="1374.6" r="5.2"/>
<circle cx="1754.2" cy="1386.4" r="5.2"/>
<circle cx="1757.7" cy="1397.7" r="5.2"/>
<circle cx="1750.0" cy="1398.1" r="5.2"/>
<circle cx="1755.1" cy="1406.6" r="5.2"/>
<circle cx="1763.1" cy="1428.5" r="5.2"/>
<circle cx="1756.0" cy="1431.5" r="5.2"/>
<circle cx="1758.5" cy="1440.9" r="5.2"/>
<circle cx="1750.3" cy="1442.6" r="5.2"/>
<circle cx="1749.1" cy="1418.6" r="5.2"/>
<circle cx="1745.7" cy="1454.9" r="5.2"/>
<circle cx="1741.7" cy="1484.5" r="5.2"/>
<circle cx="1739.7" cy="1365.6" r="5.2"/>
<circle cx="1736.3" cy="1369.0" r="5.2"/>
<circle cx="1741.4" cy="1379.3" r="5.2"/>
<circle cx="1748.2" cy="1382.7" r="5.2"/>
<circle cx="1652.4" cy="1382.7" r="5.2"/>
<circle cx="1649.0" cy="1392.9" r="5.2"/>
<circle cx="1655.8" cy="1375.8" r="5.2"/>
<circle cx="1662.7" cy="1382.7" r="5.2"/>
</g>
<g fill="#A5A5AA">
<circle cx="1599.0" cy="1282.6" r="5.2"/>
<circle cx="1628.1" cy="1297.5" r="5.2"/>
<circle cx="1635.8" cy="1314.2" r="5.2"/>
<circle cx="1644.7" cy="1327.1" r="5.2"/>
<circle cx="1640.4" cy="1335.1" r="5.2"/>
<circle cx="1655.0" cy="1331.3" r="5.2"/>
<circle cx="1661.0" cy="1330.0" r="5.2"/>
<circle cx="1660.1" cy="1339.4" r="5.2"/>
<circle cx="1627.9" cy="1347.9" r="5.2"/>
<circle cx="1641.6" cy="1348.8" r="5.2"/>
<circle cx="1662.3" cy="1350.2" r="5.2"/>
<circle cx="1665.2" cy="1355.3" r="5.2"/>
<circle cx="1657.5" cy="1357.9" r="5.2"/>
<circle cx="1591.5" cy="1183.9" r="5.2"/>
<circle cx="1599.0" cy="1282.4" r="5.2"/>
</g><g fill="#70ABB8">
<circle cx="1754.2" cy="1298.5" r="5.2"/>
<circle cx="1758.2" cy="1303.1" r="5.2"/>
<circle cx="1740.9" cy="1312.0" r="5.2"/>
<circle cx="1745.2" cy="1320.2" r="5.2"/>
<circle cx="1755.6" cy="1324.2" r="5.2"/>
<circle cx="1742.8" cy="1327.6" r="5.2"/>
<circle cx="1787.1" cy="1325.9" r="5.2"/>
<circle cx="1793.1" cy="1331.9" r="5.2"/>
<circle cx="1735.9" cy="1338.2" r="5.2"/>
<circle cx="1751.7" cy="1337.3" r="5.2"/>
<circle cx="1757.7" cy="1339.0" r="5.2"/>
<circle cx="1749.1" cy="1343.7" r="5.2"/>
<circle cx="1731.1" cy="1349.0" r="5.2"/>
<circle cx="1738.0" cy="1349.0" r="5.2"/>
<circle cx="1744.0" cy="1348.5" r="5.2"/>
<circle cx="1750.0" cy="1350.2" r="5.2"/>
<circle cx="1755.6" cy="1349.7" r="5.2"/>
<circle cx="1801.6" cy="1349.3" r="5.2"/>
<circle cx="1736.3" cy="1354.8" r="5.2"/>
<circle cx="1741.4" cy="1353.6" r="5.2"/>
<circle cx="1733.7" cy="1358.7" r="5.2"/>
<circle cx="1824.3" cy="1244.5" r="5.2"/>
<circle cx="1757.7" cy="1273.6" r="5.2"/>
</g>
<line x1="1700.4" y1="1141.6" x2="1700.4" y2="1550.3" stroke="#000" stroke-width="2.40"/>
<line x1="1484.6" y1="1360.6" x2="1916.0" y2="1360.6" stroke="#000" stroke-width="2.40"/>
<text x="1536.4" y="1154.7" font-size="24.60" class="i">Map7d2</text>
<line x1="1591.5" y1="1159.6" x2="1591.5" y2="1176.7" stroke="#111" stroke-width="2.20"/>
<text x="1531.3" y="1250.4" font-size="24.60" class="i">Gpr50</text>
<line x1="1593.9" y1="1252.5" x2="1596.3" y2="1275.2" stroke="#111" stroke-width="2.20"/>
<text x="1617.0" y="1262.3" font-size="24.60" class="i">Fgd6</text>
<line x1="1634.9" y1="1270.4" x2="1630.1" y2="1291.1" stroke="#111" stroke-width="2.20"/>
<text x="1646.9" y="1294.6" font-size="24.60" class="i">Clu</text>
<line x1="1654.9" y1="1295.1" x2="1638.9" y2="1310.3" stroke="#111" stroke-width="2.20"/>
<text x="1760.5" y="1208.5" font-size="24.60" class="i">Myh10</text>
<line x1="1790.4" y1="1215.4" x2="1760.5" y2="1269.2" stroke="#111" stroke-width="2.20"/>
<text x="1858.6" y="1218.5" font-size="24.60" class="i">Stat3</text>
<line x1="1857.4" y1="1221.4" x2="1830.3" y2="1239.3" stroke="#111" stroke-width="2.20"/>
<text x="1705.9" y="1247.6" font-size="24.60" class="i">Trpm1</text>
<line x1="1732.6" y1="1253.3" x2="1739.8" y2="1307.1" stroke="#111" stroke-width="2.20"/>
<text x="1772.9" y="1278.7" font-size="24.60" class="i">Tcof1</text>
<line x1="1774.5" y1="1283.2" x2="1757.7" y2="1295.1" stroke="#111" stroke-width="2.20"/>
<text x="1796.8" y="1302.6" font-size="24.60" class="i">Dcx</text>
<line x1="1794.4" y1="1300.3" x2="1765.7" y2="1303.9" stroke="#111" stroke-width="2.20"/>
<text x="1822.7" y="1328.1" font-size="24.60" class="i">Psmc2</text>
<line x1="1818.3" y1="1316.3" x2="1750.6" y2="1317.8" stroke="#111" stroke-width="2.20"/>
</g>
<g id="pg">
<text x="-0.2" y="1680.8" font-size="32.80" class="b">g</text>
<text x="247.6" y="1689.4" font-size="28.70">Altered protein functions in endfoot after LPS</text>
<line x1="247.6" y1="1692.2" x2="818.8" y2="1692.2" stroke="#1a1a1a" stroke-width="1.60"/>
<path d="M345.40,2018.30 L345.40,1815.00 A203.30,203.30 0 0 1 517.54,1910.14 Z" fill="#FFC990" stroke="#FFC990" stroke-width="0.6"/>
<path d="M345.40,2018.30 L517.54,1910.14 A203.30,203.30 0 0 1 543.60,2063.54 Z" fill="#FBD7F3" stroke="#FBD7F3" stroke-width="0.6"/>
<path d="M345.40,2018.30 L543.60,2063.54 A203.30,203.30 0 0 1 453.56,2190.44 Z" fill="#FFB1AF" stroke="#FFB1AF" stroke-width="0.6"/>
<path d="M345.40,2018.30 L453.56,2190.44 A203.30,203.30 0 0 1 322.64,2220.32 Z" fill="#BDF5E2" stroke="#BDF5E2" stroke-width="0.6"/>
<path d="M345.40,2018.30 L322.64,2220.32 A203.30,203.30 0 0 1 218.64,2177.25 Z" fill="#CF93B0" stroke="#CF93B0" stroke-width="0.6"/>
<path d="M345.40,2018.30 L218.64,2177.25 A203.30,203.30 0 0 1 162.23,2106.51 Z" fill="#CADDF7" stroke="#CADDF7" stroke-width="0.6"/>
<path d="M345.40,2018.30 L162.23,2106.51 A203.30,203.30 0 0 1 142.10,2018.30 Z" fill="#FFFEE3" stroke="#FFFEE3" stroke-width="0.6"/>
<path d="M345.40,2018.30 L142.10,2018.30 A203.30,203.30 0 0 1 153.51,1951.15 Z" fill="#D8B0AE" stroke="#D8B0AE" stroke-width="0.6"/>
<path d="M345.40,2018.30 L153.51,1951.15 A203.30,203.30 0 0 1 186.45,1891.54 Z" fill="#8BAAD4" stroke="#8BAAD4" stroke-width="0.6"/>
<path d="M345.40,2018.30 L186.45,1891.54 A203.30,203.30 0 0 1 218.64,1859.35 Z" fill="#636363" stroke="#636363" stroke-width="0.6"/>
<path d="M345.40,2018.30 L218.64,1859.35 A203.30,203.30 0 0 1 257.19,1835.13 Z" fill="#EFEFEF" stroke="#EFEFEF" stroke-width="0.6"/>
<path d="M345.40,2018.30 L257.19,1835.13 A203.30,203.30 0 0 1 278.25,1826.41 Z" fill="#BEBEBE" stroke="#BEBEBE" stroke-width="0.6"/>
<path d="M345.40,2018.30 L278.25,1826.41 A203.30,203.30 0 0 1 300.16,1820.10 Z" fill="#8E8E8E" stroke="#8E8E8E" stroke-width="0.6"/>
<path d="M345.40,2018.30 L300.16,1820.10 A203.30,203.30 0 0 1 322.64,1816.28 Z" fill="#6FAEBA" stroke="#6FAEBA" stroke-width="0.6"/>
<path d="M345.40,2018.30 L322.64,1816.28 A203.30,203.30 0 0 1 345.40,1815.00 Z" fill="#E6E6FC" stroke="#E6E6FC" stroke-width="0.6"/>
<text x="434.5" y="1867.4" font-size="24.60" text-anchor="middle">9</text>
<text x="535.1" y="1995.6" font-size="24.60" text-anchor="middle">7</text>
<text x="500.0" y="2136.6" font-size="24.60" text-anchor="middle">7</text>
<text x="390.6" y="2214.1" font-size="24.60" text-anchor="middle">6</text>
<text x="272.4" y="2202.1" font-size="24.60" text-anchor="middle">5</text>
<text x="196.9" y="2144.2" font-size="24.60" text-anchor="middle">4</text>
<text x="158.9" y="2069.1" font-size="24.60" text-anchor="middle">4</text>
<text x="159.3" y="1995.6" font-size="24.60" text-anchor="middle">3</text>
<text x="183.3" y="1933.7" font-size="24.60" text-anchor="middle">3</text>
<text x="216.5" y="1893.8" font-size="24.60" text-anchor="middle">2</text>
<text x="251.2" y="1869.8" font-size="24.60" text-anchor="middle">2</text>
<text x="274.8" y="1854.7" font-size="24.60" text-anchor="middle">1</text>
<text x="294.7" y="1846.7" font-size="24.60" text-anchor="middle">1</text>
<text x="315.5" y="1841.9" font-size="24.60" text-anchor="middle">1</text>
<text x="338.7" y="1839.9" font-size="24.60" text-anchor="middle">1</text>
<text x="346" y="2302.9" font-size="28.70" text-anchor="middle" letter-spacing="-1.1">Total=56</text>
<rect x="595.0" y="1759.8" width="63.9" height="13.6" fill="#FFC990"/>
<text x="675.7" y="1777.0" font-size="28.70" letter-spacing="-0.85" word-spacing="3.6">Protein degradation</text>
<rect x="595.0" y="1798.2" width="63.9" height="13.6" fill="#FBD7F3"/>
<text x="675.7" y="1815.5" font-size="28.70" letter-spacing="-0.85" word-spacing="3.6">Cytoskeleton organization</text>
<rect x="595.0" y="1836.7" width="63.9" height="13.6" fill="#FFB1AF"/>
<text x="675.7" y="1853.9" font-size="28.70" letter-spacing="-0.85" word-spacing="3.6">Translation</text>
<rect x="595.0" y="1875.1" width="63.9" height="13.6" fill="#BDF5E2"/>
<text x="675.7" y="1892.3" font-size="28.70" letter-spacing="-0.85" word-spacing="3.6">Transport within cell</text>
<rect x="595.0" y="1913.6" width="63.9" height="13.6" fill="#CF93B0"/>
<text x="675.7" y="1930.8" font-size="28.70" letter-spacing="-0.85" word-spacing="3.6">Transport at membrane</text>
<rect x="595.0" y="1952.0" width="63.9" height="13.6" fill="#CADDF7"/>
<text x="675.7" y="1969.2" font-size="28.70" letter-spacing="-0.85" word-spacing="3.6">Cell adhesion</text>
<rect x="595.0" y="1990.5" width="63.9" height="13.6" fill="#FFFEE3"/>
<text x="675.7" y="2007.7" font-size="28.70" letter-spacing="-0.85" word-spacing="3.6">Metabolism</text>
<rect x="595.0" y="2029.0" width="63.9" height="13.6" fill="#D8B0AE"/>
<text x="675.7" y="2046.2" font-size="28.70" letter-spacing="-0.85" word-spacing="3.6">Cell signaling</text>
<rect x="595.0" y="2067.4" width="63.9" height="13.6" fill="#8BAAD4"/>
<text x="675.7" y="2084.6" font-size="28.70" letter-spacing="-0.85" word-spacing="3.6">Transcription</text>
<rect x="595.0" y="2105.8" width="63.9" height="13.6" fill="#636363"/>
<text x="675.7" y="2123.1" font-size="28.70" letter-spacing="-0.85" word-spacing="3.6">Extracellular matrix</text>
<rect x="595.0" y="2144.3" width="63.9" height="13.6" fill="#EFEFEF"/>
<text x="675.7" y="2161.5" font-size="28.70" letter-spacing="-0.85" word-spacing="3.6">RNA splicing</text>
<rect x="595.0" y="2182.8" width="63.9" height="13.6" fill="#BEBEBE"/>
<text x="675.7" y="2200.0" font-size="28.70" letter-spacing="-0.85" word-spacing="3.6">Cell cycle</text>
<rect x="595.0" y="2221.2" width="63.9" height="13.6" fill="#8E8E8E"/>
<text x="675.7" y="2238.4" font-size="28.70" letter-spacing="-0.85" word-spacing="3.6">Chaperone</text>
<rect x="595.0" y="2259.6" width="63.9" height="13.6" fill="#6FAEBA"/>
<text x="675.7" y="2276.8" font-size="28.70" letter-spacing="-0.85" word-spacing="3.6">Enzyme</text>
<rect x="595.0" y="2298.1" width="63.9" height="13.6" fill="#E6E6FC"/>
<text x="675.7" y="2315.3" font-size="28.70" letter-spacing="-0.85" word-spacing="3.6">ER function</text>
</g>
<g id="ph">
<text x="1312.0" y="1688.9" font-size="32.80" class="b">h</text>
<text x="1510.4" y="1690.1" font-size="28.70">Significant altered IPA pathways</text>
<line x1="1510.4" y1="1693.0" x2="1918.3" y2="1693.0" stroke="#1a1a1a" stroke-width="1.60"/>
<text x="1510.4" y="1722.0" font-size="28.70">LPS vs. PBS in endfoot (<tspan class="i">p</tspan> &lt; 0.05)</text>
<g shape-rendering="crispEdges">
<rect x="1887.5" y="1759.0" width="48.9" height="22.5" fill="#FFAC52"/>
<rect x="1887.5" y="1781.0" width="48.9" height="22.5" fill="#FFB666"/>
<rect x="1887.5" y="1803.0" width="48.9" height="22.5" fill="#FFB666"/>
<rect x="1887.5" y="1825.0" width="48.9" height="22.5" fill="#FFB666"/>
<rect x="1887.5" y="1847.0" width="48.9" height="22.5" fill="#FFB666"/>
<rect x="1887.5" y="1869.0" width="48.9" height="22.5" fill="#FFB666"/>
<rect x="1887.5" y="1891.0" width="48.9" height="22.5" fill="#FFCB95"/>
<rect x="1887.5" y="1913.0" width="48.9" height="22.5" fill="#FFDCB8"/>
<rect x="1887.5" y="1935.0" width="48.9" height="22.5" fill="#FFDCB8"/>
<rect x="1887.5" y="1957.0" width="48.9" height="22.5" fill="#FFDCB8"/>
<rect x="1887.5" y="1979.0" width="48.9" height="22.5" fill="#FFDCB8"/>
<rect x="1887.5" y="2001.0" width="48.9" height="22.5" fill="#FFDCB8"/>
<rect x="1887.5" y="2023.0" width="48.9" height="22.5" fill="#FFDCB8"/>
<rect x="1887.5" y="2045.0" width="48.9" height="22.5" fill="#FFDCB8"/>
<rect x="1887.5" y="2067.0" width="48.9" height="22.5" fill="#FFDCB8"/>
<rect x="1887.5" y="2089.0" width="48.9" height="22.5" fill="#FFDCB8"/>
<rect x="1887.5" y="2111.0" width="48.9" height="22.5" fill="#FFDCB8"/>
<rect x="1887.5" y="2133.0" width="48.9" height="22.5" fill="#FFDCB8"/>
<rect x="1887.5" y="2155.0" width="48.9" height="22.5" fill="#FFDCB8"/>
<rect x="1887.5" y="2177.0" width="48.9" height="22.5" fill="#FFDAB3"/>
<rect x="1887.5" y="2199.0" width="48.9" height="22.5" fill="#FFECDA"/>
<rect x="1887.5" y="2221.0" width="48.9" height="22.5" fill="#FFECDA"/>
<rect x="1887.5" y="2243.0" width="48.9" height="22.5" fill="#E1E1FB"/>
<rect x="1887.5" y="2265.0" width="48.9" height="22.5" fill="#BDBDF9"/>
<rect x="1887.5" y="2287.0" width="48.9" height="22.5" fill="#BDBDF9"/>
</g>
<line x1="1878.9" y1="1770.0" x2="1887.5" y2="1770.0" stroke="#1a1a1a" stroke-width="1.80"/>
<text x="1873.7" y="1778.3" font-size="24.60" text-anchor="end">Ribosomal Quality Control Signaling Pathway</text>
<line x1="1878.9" y1="1792.0" x2="1887.5" y2="1792.0" stroke="#1a1a1a" stroke-width="1.80"/>
<text x="1873.7" y="1800.3" font-size="24.60" text-anchor="end">ABC-family proteins mediated transport</text>
<line x1="1878.9" y1="1814.0" x2="1887.5" y2="1814.0" stroke="#1a1a1a" stroke-width="1.80"/>
<text x="1873.7" y="1822.3" font-size="24.60" text-anchor="end">Microautophagy Signaling Pathway</text>
<line x1="1878.9" y1="1836.0" x2="1887.5" y2="1836.0" stroke="#1a1a1a" stroke-width="1.80"/>
<text x="1873.7" y="1844.3" font-size="24.60" text-anchor="end">HER-2 Signaling in Breast Cancer</text>
<line x1="1878.9" y1="1858.0" x2="1887.5" y2="1858.0" stroke="#1a1a1a" stroke-width="1.80"/>
<text x="1873.7" y="1866.3" font-size="24.60" text-anchor="end">Neddylation</text>
<line x1="1878.9" y1="1880.0" x2="1887.5" y2="1880.0" stroke="#1a1a1a" stroke-width="1.80"/>
<text x="1873.7" y="1888.3" font-size="24.60" text-anchor="end">Cellular Effects of Sildenafil (Viagra)</text>
<line x1="1878.9" y1="1902.0" x2="1887.5" y2="1902.0" stroke="#1a1a1a" stroke-width="1.80"/>
<text x="1873.7" y="1910.3" font-size="24.60" text-anchor="end">Interleukin-1 family signaling</text>
<line x1="1878.9" y1="1924.0" x2="1887.5" y2="1924.0" stroke="#1a1a1a" stroke-width="1.80"/>
<text x="1873.7" y="1932.3" font-size="24.60" text-anchor="end">RHO GTPases activate CIT</text>
<line x1="1878.9" y1="1946.0" x2="1887.5" y2="1946.0" stroke="#1a1a1a" stroke-width="1.80"/>
<text x="1873.7" y="1954.3" font-size="24.60" text-anchor="end">RHO GTPases Activate ROCKs</text>
<line x1="1878.9" y1="1968.0" x2="1887.5" y2="1968.0" stroke="#1a1a1a" stroke-width="1.80"/>
<text x="1873.7" y="1976.3" font-size="24.60" text-anchor="end">RHO GTPases activate PKNs</text>
<line x1="1878.9" y1="1990.0" x2="1887.5" y2="1990.0" stroke="#1a1a1a" stroke-width="1.80"/>
<text x="1873.7" y="1998.3" font-size="24.60" text-anchor="end">Semaphorin interactions</text>
<line x1="1878.9" y1="2012.0" x2="1887.5" y2="2012.0" stroke="#1a1a1a" stroke-width="1.80"/>
<text x="1873.7" y="2020.3" font-size="24.60" text-anchor="end">EPH-Ephrin signaling</text>
<line x1="1878.9" y1="2034.0" x2="1887.5" y2="2034.0" stroke="#1a1a1a" stroke-width="1.80"/>
<text x="1873.7" y="2042.3" font-size="24.60" text-anchor="end">PTEN Regulation</text>
<line x1="1878.9" y1="2056.0" x2="1887.5" y2="2056.0" stroke="#1a1a1a" stroke-width="1.80"/>
<text x="1873.7" y="2064.3" font-size="24.60" text-anchor="end">ILK Signaling</text>
<line x1="1878.9" y1="2078.0" x2="1887.5" y2="2078.0" stroke="#1a1a1a" stroke-width="1.80"/>
<text x="1873.7" y="2086.3" font-size="24.60" text-anchor="end">Signaling by ROBO receptors</text>
<line x1="1878.9" y1="2100.0" x2="1887.5" y2="2100.0" stroke="#1a1a1a" stroke-width="1.80"/>
<text x="1873.7" y="2108.3" font-size="24.60" text-anchor="end">Actin Cytoskeleton Signaling</text>
<line x1="1878.9" y1="2122.0" x2="1887.5" y2="2122.0" stroke="#1a1a1a" stroke-width="1.80"/>
<text x="1873.7" y="2130.3" font-size="24.60" text-anchor="end">Deubiquitination</text>
<line x1="1878.9" y1="2144.0" x2="1887.5" y2="2144.0" stroke="#1a1a1a" stroke-width="1.80"/>
<text x="1873.7" y="2152.3" font-size="24.60" text-anchor="end">Protein Ubiquitination Pathway</text>
<line x1="1878.9" y1="2166.0" x2="1887.5" y2="2166.0" stroke="#1a1a1a" stroke-width="1.80"/>
<text x="1873.7" y="2174.3" font-size="24.60" text-anchor="end">Oxytocin Signaling Pathway</text>
<line x1="1878.9" y1="2188.0" x2="1887.5" y2="2188.0" stroke="#1a1a1a" stroke-width="1.80"/>
<text x="1873.7" y="2196.3" font-size="24.60" text-anchor="end">Cachexia Signaling Pathway</text>
<line x1="1878.9" y1="2210.0" x2="1887.5" y2="2210.0" stroke="#1a1a1a" stroke-width="1.80"/>
<text x="1873.7" y="2218.3" font-size="24.60" text-anchor="end">Class I MHC mediated antigen processing and presentation</text>
<line x1="1878.9" y1="2232.0" x2="1887.5" y2="2232.0" stroke="#1a1a1a" stroke-width="1.80"/>
<text x="1873.7" y="2240.3" font-size="24.60" text-anchor="end">Phagosome Formation</text>
<line x1="1878.9" y1="2254.0" x2="1887.5" y2="2254.0" stroke="#1a1a1a" stroke-width="1.80"/>
<text x="1873.7" y="2262.3" font-size="24.60" text-anchor="end">Protein Kinase A Signaling</text>
<line x1="1878.9" y1="2276.0" x2="1887.5" y2="2276.0" stroke="#1a1a1a" stroke-width="1.80"/>
<text x="1873.7" y="2284.3" font-size="24.60" text-anchor="end">Lung Ionic Balance Signaling Pathway</text>
<line x1="1878.9" y1="2298.0" x2="1887.5" y2="2298.0" stroke="#1a1a1a" stroke-width="1.80"/>
<text x="1873.7" y="2306.3" font-size="24.60" text-anchor="end">S100 Family Signaling Pathway</text>
<rect x="1887.5" y="1758.7" width="48.9" height="552.2" fill="none" stroke="#0a0a0a" stroke-width="1.90"/>
<defs><linearGradient id="gh" x1="0" x2="1" y1="0" y2="0"><stop offset="0" stop-color="#3F1D96"/><stop offset="0.25" stop-color="#9C88D6"/><stop offset="0.5" stop-color="#FFFFFF"/><stop offset="0.75" stop-color="#FFD3A0"/><stop offset="1" stop-color="#FF9416"/></linearGradient></defs>
<rect x="1792.1" y="2336.4" width="148.6" height="24.6" fill="url(#gh)" stroke="#0a0a0a" stroke-width="1.90"/>
<text x="1778.9" y="2357.9" font-size="24.60" text-anchor="end" letter-spacing="-0.7">IPA z-score</text>
<line x1="1817.6" y1="2336.4" x2="1817.6" y2="2340.4" stroke="#1a1a1a" stroke-width="1.30"/>
<line x1="1817.6" y1="2361.0" x2="1817.6" y2="2357.0" stroke="#1a1a1a" stroke-width="1.30"/>
<text x="1818.2" y="2393.4" font-size="24.60" text-anchor="middle" letter-spacing="-1">-2</text>
<line x1="1866.8" y1="2336.4" x2="1866.8" y2="2340.4" stroke="#1a1a1a" stroke-width="1.30"/>
<line x1="1866.8" y1="2361.0" x2="1866.8" y2="2357.0" stroke="#1a1a1a" stroke-width="1.30"/>
<text x="1866.8" y="2393.4" font-size="24.60" text-anchor="middle" letter-spacing="-1">0</text>
<line x1="1916.5" y1="2336.4" x2="1916.5" y2="2340.4" stroke="#1a1a1a" stroke-width="1.30"/>
<line x1="1916.5" y1="2361.0" x2="1916.5" y2="2357.0" stroke="#1a1a1a" stroke-width="1.30"/>
<text x="1916.5" y="2393.4" font-size="24.60" text-anchor="middle" letter-spacing="-1">2</text>
</g>
</svg>
</body></html>
